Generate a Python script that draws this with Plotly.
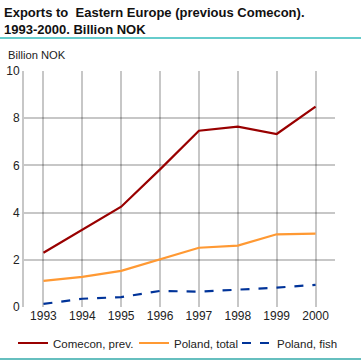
import plotly.graph_objects as go

years = [1993, 1994, 1995, 1996, 1997, 1998, 1999, 2000]
comecon = [2.30, 3.26, 4.25, 5.83, 7.47, 7.64, 7.33, 8.49]
poland_total = [1.11, 1.28, 1.53, 2.03, 2.51, 2.60, 3.08, 3.11]
poland_fish = [0.13, 0.35, 0.42, 0.68, 0.65, 0.72, 0.82, 0.94]
series_names = ["Comecon, prev.", "Poland, total", "Poland, fish"]
y_ticks = [0, 2, 4, 6, 8, 10]

FONT = "Liberation Sans"
W, H = 361, 361
ML, MR, MT, MB = 24, 26, 71, 54
PW = W - ML - MR
PH = H - MT - MB
GRID = "rgba(0,0,0,0.22)"

fig = go.Figure()
fig.add_trace(go.Scatter(x=years, y=comecon, mode="lines", name=series_names[0],
                         line=dict(color="#990000", width=2.2), legend="legend"))
fig.add_trace(go.Scatter(x=years, y=poland_total, mode="lines", name=series_names[1],
                         line=dict(color="#ff9933", width=2.2), legend="legend2"))
fig.add_trace(go.Scatter(x=years, y=poland_fish, mode="lines", name=series_names[2],
                         line=dict(color="#003399", width=2.2, dash="dash"), legend="legend3"))

def leg(xpx):
    return dict(orientation="h", x=xpx / W, xref="container", xanchor="left",
                y=1 - 343 / H, yref="container", yanchor="middle",
                font=dict(size=11.5, color="#222222", family=FONT),
                itemwidth=30, bgcolor="rgba(0,0,0,0)", borderwidth=0)

fig.update_layout(
    width=W, height=H,
    margin=dict(l=ML, r=MR, t=MT, b=MB, autoexpand=False),
    paper_bgcolor="white", plot_bgcolor="white",
    font=dict(family=FONT, size=11.5, color="#222222"),
    title=dict(text="Exports to  Eastern Europe (previous Comecon).<br>1993-2000. Billion NOK",
               x=4 / W, xanchor="left", xref="container",
               y=1 - 17 / H, yanchor="middle", yref="container",
               font=dict(family=FONT, size=13, color="#111111", weight=700)),
    xaxis=dict(range=[1992.5, 2000.5], tickmode="array", tickvals=years,
               showgrid=True, gridcolor=GRID, gridwidth=2,
               zeroline=False, showline=False, automargin=False,
               tickfont=dict(size=12, color="#222222"), fixedrange=True),
    yaxis=dict(range=[0, 10], tickmode="array", tickvals=y_ticks,
               showgrid=True, gridcolor=GRID, gridwidth=2,
               zeroline=False, showline=True, linecolor=GRID, linewidth=2,
               automargin=False,
               tickfont=dict(size=12, color="#222222"), fixedrange=True),
    legend=leg(13),
    legend2=leg(134),
    legend3=leg(237),
    showlegend=True,
    annotations=[dict(text="Billion NOK", xref="paper", yref="paper",
                      x=(6 - ML) / PW, y=(MT + PH - 55) / PH, xanchor="left", yanchor="middle",
                      showarrow=False, font=dict(size=11.2, color="#222222"))],
    shapes=[
        dict(type="line", xref="paper", yref="paper",
             x0=-ML / PW, x1=(W - ML) / PW, y0=(MT + PH - 38) / PH, y1=(MT + PH - 38) / PH,
             line=dict(color="#66cccc", width=2)),
        dict(type="line", xref="paper", yref="paper",
             x0=-ML / PW, x1=(W - ML) / PW, y0=(MT + PH - 359) / PH, y1=(MT + PH - 359) / PH,
             line=dict(color="#33aaaa", width=1.5)),
    ],
)

fig.write_html("out.html", config={"displayModeBar": False},
               post_script="document.body.style.margin='0';")
